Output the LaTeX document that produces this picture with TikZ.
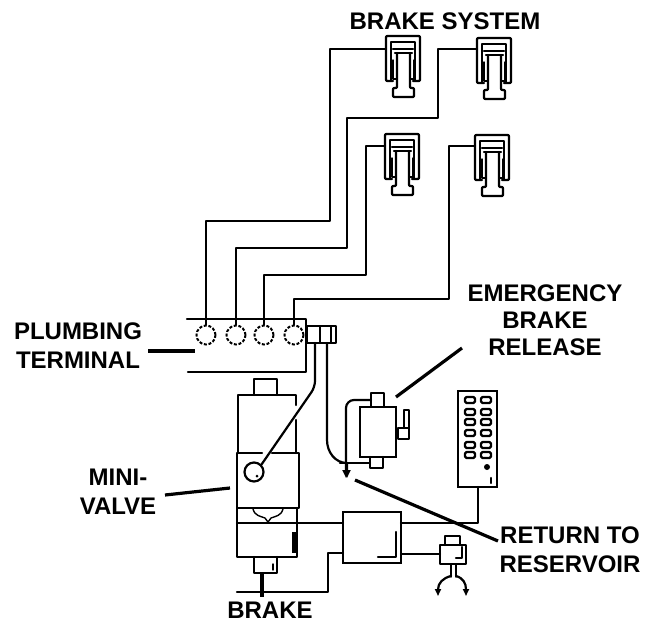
\documentclass[tikz,border=0pt]{standalone}
\usepackage{fontspec}
\setmainfont{Liberation Sans}
\usetikzlibrary{arrows.meta}
\tikzset{
 ln/.style={line width=2.2pt,line join=round,line cap=round},
 thin ln/.style={line width=1.4pt,line join=round,line cap=round},
 leader/.style={line width=3.2pt},
 lab/.style={font=\bfseries\fontsize{24}{27}\selectfont,align=center,inner sep=0pt},
 port/.style={circle,draw,dashed,line width=2pt,dash pattern=on 3pt off 1.7pt,minimum size=19pt,inner sep=0pt},
 tip/.style={-{Triangle[length=8pt,width=7pt]}}
}
\newcommand{\caliper}[2]{%
 \begin{scope}[shift={(#1,#2)}]
  \draw[ln,rounded corners=1pt] (7,45)--(0,45)--(0,0)--(34,0)--(34,45)--(27,45);
  \draw[thin ln] (5,44)--(5,6)--(29,6)--(29,44);
  \draw[ln] (7,13)--(27,13);
  \draw[ln,rounded corners=1pt] (9,17)--(26,17);
  \draw[ln,rounded corners=1pt] (11,17)--(11,52)--(7,52)--(7,61)--(28,61)--(28,52)--(24,52)--(24,17);
  \draw[thin ln] (7,24)--(7,43)--(11,43);
  \draw[thin ln] (28,24)--(28,43)--(24,43);
 \end{scope}}
\begin{document}
\begin{tikzpicture}[x=1pt,y=-1pt]
\useasboundingbox (0,0) rectangle (651,622);
% calipers
\caliper{386}{36}\caliper{477}{38}\caliper{385}{134}\caliper{475}{135}
\coordinate (c1) at (386,49);\coordinate (c2) at (477,49);\coordinate (c3) at (385,146);\coordinate (c4) at (475,146);
% ports
\node[port] (p1) at (206,335) {};
\node[port] (p2) at (236,335) {};
\node[port] (p3) at (264,335) {};
\node[port] (p4) at (294,335) {};
% pipes
\draw[ln] (c1)--(330,49)--(330,221)--(206,221)--(p1.north);
\draw[ln] (c2)--(438,49)--(438,118)--(347,118)--(347,248)--(236,248)--(p2.north);
\draw[ln] (c3)--(366,146)--(366,275)--(264,275)--(p3.north);
\draw[ln] (c4)--(449,146)--(449,299)--(294,299)--(p4.north);
% terminal
\draw[ln] (187,319)--(306,319)--(306,372)--(188,372);
\draw[ln] (307,326) rectangle (336,343);
\draw[thin ln] (320,326)--(320,343) (331,326)--(331,343);
% fitting lines
\node[circle,draw,line width=2.2pt,minimum size=19pt,inner sep=0pt] (mv) at (254,472) {};
\fill (257,476) circle (1.5pt);
\draw[ln,rounded corners=6pt] (315,343)--(315,387)--(mv.north east);
\coordinate (ret) at (347,478);
\draw[ln,tip] (327,343)--(327,440) to[out=-90,in=180] (347,463)--(ret);
% mini-valve
\draw[ln] (254,395)--(254,379)--(277,379)--(277,395);
\draw[ln] (296,405)--(296,395)--(238,395)--(238,453);
\draw[ln] (296,420)--(296,453);
\draw[ln] (262,453)--(237,453)--(237,508)--(299,508)--(299,453)--(272,453);
\draw[ln] (237,508)--(237,557)--(297,557)--(297,508);
\draw[ln] (237,523)--(297,523);
\draw[thin ln] (253,509) .. controls (255,516) and (260,516) .. (265,518)--(268,522)--(271,518) .. controls (276,516) and (281,516) .. (283,509);
\draw[line width=3.5pt] (294,532)--(294,553);
\draw[ln] (254,557)--(254,573)--(277,573)--(277,557);
\draw[thin ln] (273,564)--(273,570);
\draw[line width=3.5pt] (262,573)--(262,597);
\node[inner sep=0pt,minimum width=58pt,minimum height=51pt,draw,line width=2.2pt] (ctl) at (372,537.5) {};
\draw[ln] (237,592)--(328,592)--(328,553)--(343,553);
\draw[ln] (297,523)--(343,523);
\draw[ln] (401,523)--(478,523)--(478,487);
\draw[ln] (396,532)--(396,557)--(378,557);
% small valve
\draw[ln] (401,554)--(440,554);
\draw[ln] (440,545) rectangle (466,564);
\draw[ln] (445,545)--(445,536)--(460,536)--(460,545);
\draw[ln] (462,547)--(462,558)--(456,558);
\draw[thin ln] (451,564)--(451,577) (456,564)--(456,577);
\draw[ln,-{Triangle[length=7pt,width=6pt]}] (451,576) .. controls (443,578) and (438,583) .. (438,596);
\draw[ln,-{Triangle[length=7pt,width=6pt]}] (456,576) .. controls (463,578) and (466,583) .. (466,596);
% emergency valve
\draw[line width=2.6pt] (360,407) rectangle (396,457);
\draw[ln] (371,407)--(371,393)--(384,393)--(384,407);
\draw[ln] (370,457)--(370,468)--(383,468)--(383,457);
\draw[ln,rounded corners=8pt,tip] (371,400)--(346,400)--(346,478);
\draw[ln] (340,463)--(370,463);
\draw[ln] (398,428) rectangle (409,439);
\draw[ln] (404,428)--(404,410)--(409,410)--(409,428);
% keypad
\draw[line width=2.6pt] (458,391) rectangle (497,487);
\foreach \y in {400,412,422,433,445,455}{
 \draw[ln,rounded corners=1.5pt] (465,\y-3) rectangle (475,\y+3);
 \draw[ln,rounded corners=1.5pt] (481,\y-3) rectangle (491,\y+3);}
\fill (487,467) circle (3pt);
\draw[ln] (491,478)--(491,483);
% labels
\node[lab] (t1) at (445,21) {BRAKE SYSTEM};
\node[lab,align=center] (t2) at (545,320) {EMERGENCY\\BRAKE\\RELEASE};
\node[lab,align=center] (t3) at (78,346) {PLUMBING\\[2pt]TERMINAL};
\node[lab,align=center] (t4) at (118,492) {MINI-\\[2pt]VALVE};
\node[lab,align=center] (t5) at (570,550) {RETURN TO\\[2pt]RESERVOIR};
\node[lab] (t6) at (270,610) {BRAKE};
% leaders
\draw[leader] (148,351)--(195,351);
\draw[leader] (165,495)--(230,488);
\draw[leader] (355,480)--(498,541);
\draw[leader] (396,397)--(462,348);
\end{tikzpicture}
\end{document}
